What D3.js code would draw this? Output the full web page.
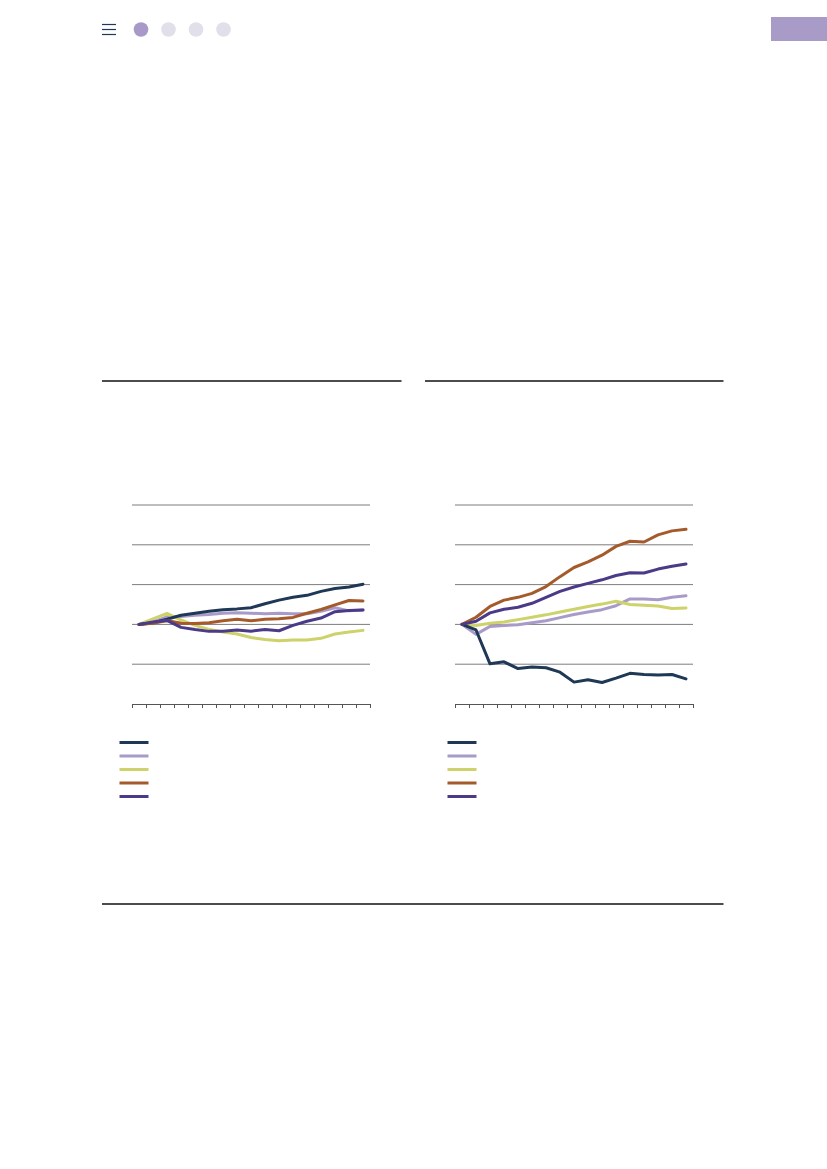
<!DOCTYPE html>
<html>
<head>
<meta charset="utf-8">
<script src="https://cdn.jsdelivr.net/npm/d3@7"></script>
<style>
  html, body { margin: 0; padding: 0; background: #fff; }
  svg { display: block; }
</style>
</head>
<body>
<svg id="page" width="827" height="1169"></svg>
<script>
// Periods along the x axis (17 observations per panel)
const periods = d3.range(17);

// Index values, first period = 100
const seriesNames = ["s1", "s2", "s3", "s4", "s5"];
const seriesColors = ["#1e3856", "#a99bc9", "#cdd26a", "#a45a2b", "#4a3a88"];
// Stacking order of the lines (back to front)
const drawOrder = [1, 2, 0, 3, 4];

// Left panel
const leftS1 = [100, 100.4, 101.3, 102.3, 102.8, 103.3, 103.7, 103.9, 104.2, 105.2, 106.1, 106.8, 107.3, 108.3, 109.0, 109.4, 110.1];
const leftS2 = [100, 100.6, 101.9, 102.0, 102.3, 102.5, 102.8, 102.9, 102.8, 102.7, 102.8, 102.7, 102.7, 103.3, 104.2, 103.4, 103.6];
const leftS3 = [100, 101.4, 102.75, 101.1, 99.75, 98.75, 98.1, 97.6, 96.7, 96.2, 95.9, 96.1, 96.1, 96.5, 97.6, 98.1, 98.5];
const leftS4 = [100, 100.3, 101.0, 100.3, 100.2, 100.4, 100.9, 101.3, 100.9, 101.3, 101.4, 101.75, 102.8, 103.75, 104.9, 106.0, 105.9];
const leftS5 = [100, 100.6, 101.0, 99.25, 98.7, 98.25, 98.3, 98.6, 98.3, 98.7, 98.4, 99.75, 100.8, 101.6, 103.2, 103.5, 103.6];

// Right panel
const rightS1 = [100, 98.6, 90.1, 90.6, 88.9, 89.3, 89.1, 88.0, 85.5, 86.1, 85.4, 86.5, 87.7, 87.4, 87.3, 87.4, 86.3];
const rightS2 = [100, 97.5, 99.5, 99.7, 99.9, 100.4, 100.9, 101.7, 102.5, 103.1, 103.7, 104.7, 106.4, 106.4, 106.2, 106.8, 107.2];
const rightS3 = [100, 99.7, 100.3, 100.6, 101.2, 101.8, 102.4, 103.1, 103.8, 104.5, 105.1, 105.8, 105.0, 104.8, 104.6, 104.0, 104.1];
const rightS4 = [100, 101.8, 104.5, 106.1, 106.8, 107.8, 109.5, 112.0, 114.3, 115.7, 117.4, 119.6, 120.9, 120.7, 122.5, 123.5, 123.9];
const rightS5 = [100, 100.8, 102.9, 103.8, 104.3, 105.3, 106.8, 108.3, 109.4, 110.3, 111.2, 112.3, 113.0, 112.9, 113.9, 114.6, 115.2];

// Value axis gridlines
const yTicks = [80, 90, 100, 110, 120, 130];

const svg = d3.select("#page");
const ink = "#1e3856";

// ---- page header ----
const menu = svg.append("g").attr("stroke", ink).attr("stroke-width", 1.2);
[24.5, 29.5, 34.5].forEach(y => menu.append("line").attr("x1", 102).attr("x2", 116).attr("y1", y).attr("y2", y));

const dotX = d3.scalePoint().domain(d3.range(4)).range([141, 223.5]);
svg.append("g").selectAll("circle").data(d3.range(4)).join("circle")
  .attr("cx", d => dotX(d)).attr("cy", 29.5).attr("r", 7.3)
  .attr("fill", d => d === 0 ? "#a899c8" : "#e1e0ea");

svg.append("rect").attr("x", 771).attr("y", 17).attr("width", 56).attr("height", 24).attr("fill", "#a99bc8");

// ---- rules ----
const rules = svg.append("g").attr("stroke", "#111").attr("stroke-width", 1.3);
rules.append("line").attr("x1", 102).attr("x2", 401.5).attr("y1", 381).attr("y2", 381);
rules.append("line").attr("x1", 425).attr("x2", 723.5).attr("y1", 381).attr("y2", 381);
rules.append("line").attr("x1", 102).attr("x2", 723.5).attr("y1", 904).attr("y2", 904);

// ---- panel drawer ----
function panel(opts) {
  const { x0, x1, series, legendX } = opts;
  const top = 505, bottom = 704;

  const x = d3.scaleBand().domain(periods).range([x0, x1]).paddingInner(0).paddingOuter(0);
  const y = d3.scaleLinear().domain([80, 130]).range([bottom, top]);

  const g = svg.append("g");

  // gridlines
  g.append("g").selectAll("line").data(yTicks.slice(1)).join("line")
    .attr("x1", x0).attr("x2", x1)
    .attr("y1", d => y(d)).attr("y2", d => y(d))
    .attr("stroke", "#7d7d7d").attr("stroke-width", 1);

  // x axis with ticks at band edges, no labels
  const edges = d3.range(periods.length + 1).map(i => x0 + i * x.step());
  const edgeScale = d3.scaleLinear().domain([x0, x1]).range([x0, x1]);
  const axis = d3.axisBottom(edgeScale).tickValues(edges).tickSize(4).tickSizeOuter(0).tickFormat("");
  const ax = g.append("g").attr("transform", `translate(0,${bottom})`).call(axis);
  ax.select(".domain").attr("stroke", "#555").attr("stroke-width", 1);
  ax.selectAll(".tick line").attr("stroke", "#555").attr("stroke-width", 1);

  // lines
  const line = d3.line()
    .x((d, i) => x(periods[i]) + x.bandwidth() / 2)
    .y(d => y(d));

  g.append("g").selectAll("path").data(drawOrder).join("path")
    .attr("d", k => line(series[k]))
    .attr("fill", "none")
    .attr("stroke", k => seriesColors[k])
    .attr("stroke-width", 3)
    .attr("stroke-linejoin", "round")
    .attr("stroke-linecap", "round");

  // legend keys
  const legendY = d3.scalePoint().domain(seriesNames).range([742.5, 796.5]);
  g.append("g").selectAll("line").data(seriesNames).join("line")
    .attr("x1", legendX).attr("x2", legendX + 29)
    .attr("y1", d => legendY(d)).attr("y2", d => legendY(d))
    .attr("stroke", (d, i) => seriesColors[i])
    .attr("stroke-width", 3);
}

panel({ x0: 132, x1: 370, series: [leftS1, leftS2, leftS3, leftS4, leftS5], legendX: 119.5 });
panel({ x0: 455, x1: 693, series: [rightS1, rightS2, rightS3, rightS4, rightS5], legendX: 447.5 });
</script>
</body>
</html>
